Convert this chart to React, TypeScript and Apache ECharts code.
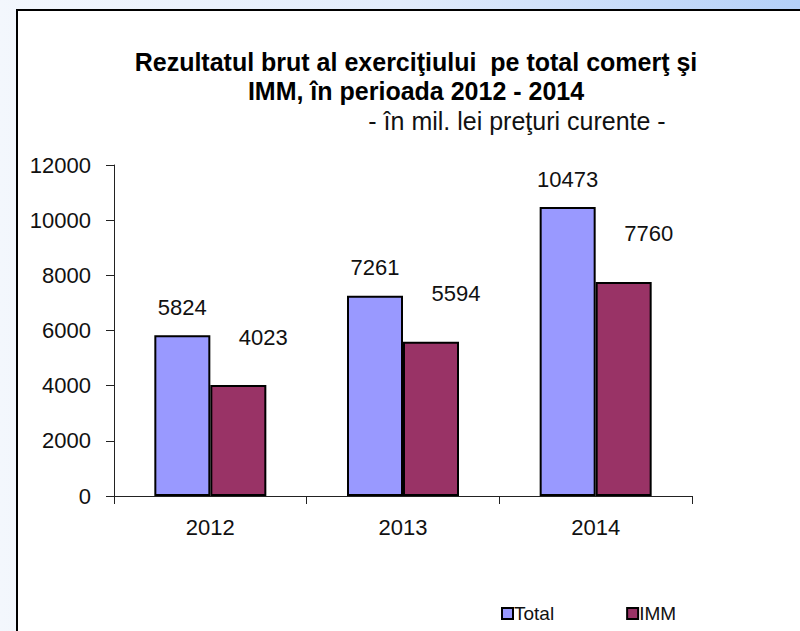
import React, { useEffect, useRef } from "react";
import * as echarts from "echarts";

const categories = ["2012", "2013", "2014"];
const totalValues = [5824, 7261, 10473];
const immValues = [4023, 5594, 7760];
const seriesNames = ["Total", "IMM"];
const titleText = "Rezultatul brut al exerciţiului  pe total comerţ şi\nIMM, în perioada 2012 - 2014";
const subtitleText = "- în mil. lei preţuri curente -";

const FONT = "'Liberation Sans', Arial, sans-serif";

export default function App() {
  const ref = useRef<HTMLDivElement>(null);
  useEffect(() => {
    if (!ref.current) return;
    const chart = echarts.init(ref.current, null, { renderer: "svg" });
    chart.setOption({
      animation: false,
      backgroundColor: {
        type: "linear",
        x: 0,
        y: 0,
        x2: 1,
        y2: 0,
        colorStops: [
          { offset: 0, color: "#f3f7fd" },
          { offset: 0.5, color: "#e2ecfb" },
          { offset: 1, color: "#b4d0f8" },
        ],
      },
      graphic: [
        {
          type: "rect",
          z: 0,
          shape: { x: 17, y: 10, width: 820, height: 700 },
          style: { fill: "#ffffff", stroke: "#000000", lineWidth: 2 },
        },
      ],
      title: [
        {
          text: titleText,
          left: 411,
          top: 42,
          textAlign: "center",
          textStyle: {
            fontFamily: FONT,
            fontSize: 25,
            fontWeight: "bold",
            color: "#000",
            lineHeight: 29,
          },
        },
        {
          text: subtitleText,
          left: 512,
          top: 103,
          textAlign: "center",
          textStyle: {
            fontFamily: FONT,
            fontSize: 25,
            fontWeight: "normal",
            color: "#111",
          },
        },
      ],
      legend: {
        data: seriesNames,
        left: 496,
        top: 599,
        itemWidth: 11,
        itemHeight: 11,
        itemGap: 72,
        icon: "rect",
        textStyle: { fontFamily: FONT, fontSize: 19, color: "#111", padding: [0, 0, 0, -4] },
      },
      grid: { left: 114, right: 108, top: 165, bottom: 135 },
      xAxis: {
        type: "category",
        data: categories,
        axisLine: { lineStyle: { color: "#222", width: 1 } },
        axisTick: { show: true, length: 8, lineStyle: { color: "#222" } },
        axisLabel: { fontFamily: FONT, fontSize: 22, color: "#111", margin: 20 },
      },
      yAxis: {
        type: "value",
        min: 0,
        max: 12000,
        interval: 2000,
        axisLine: { show: true, lineStyle: { color: "#222", width: 1 } },
        axisTick: { show: true, length: 8, lineStyle: { color: "#222" } },
        splitLine: { show: false },
        axisLabel: {
          fontFamily: FONT,
          fontSize: 22,
          color: "#111",
          margin: 23,
          formatter: (v: number) => String(v),
        },
      },
      series: [
        {
          name: seriesNames[0],
          type: "bar",
          data: totalValues,
          barWidth: 56,
          barGap: "0%",
          itemStyle: { color: "#9999ff", borderColor: "#000", borderWidth: 2 },
          label: {
            show: true,
            position: "top",
            distance: 17,
            fontFamily: FONT,
            fontSize: 22,
            color: "#111",
          },
        },
        {
          name: seriesNames[1],
          type: "bar",
          data: immValues,
          barWidth: 56,
          barGap: "0%",
          itemStyle: { color: "#993366", borderColor: "#000", borderWidth: 2 },
          label: {
            show: true,
            position: "top",
            distance: 37,
            offset: [25, 0],
            fontFamily: FONT,
            fontSize: 22,
            color: "#111",
          },
        },
      ],
    });
    return () => chart.dispose();
  }, []);
  return (
    <div
      ref={ref}
      style={{ position: "fixed", left: 0, top: 0, width: 800, height: 631 }}
    />
  );
}
